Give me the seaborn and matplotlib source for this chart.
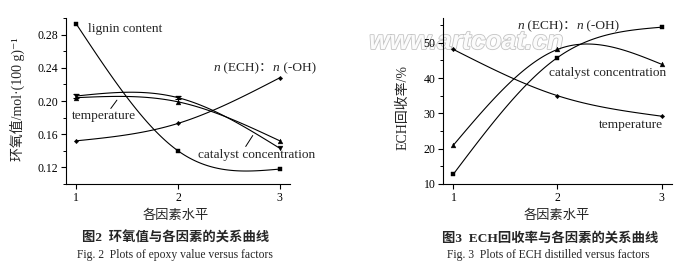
import numpy as np
import pandas as pd
import matplotlib
matplotlib.use("Agg")
import matplotlib.pyplot as plt
import seaborn as sns
from matplotlib import patheffects as pe
from matplotlib.ticker import MultipleLocator

# ---------------- data ----------------
levels = [1, 2, 3]
level_labels = ["1", "2", "3"]

# Fig. 2 : epoxy value (mol/100 g) vs factor level
epoxy_lignin = [0.293, 0.140, 0.118]
epoxy_ratio = [0.152, 0.173, 0.228]
epoxy_catalyst = [0.206, 0.204, 0.143]
epoxy_temperature = [0.204, 0.199, 0.152]
epoxy_yticks = [0.12, 0.16, 0.20, 0.24, 0.28]

# Fig. 3 : ECH recovery (%) vs factor level
ech_ratio = [12.8, 45.8, 54.4]
ech_catalyst = [21.0, 48.1, 43.9]
ech_temperature = [48.1, 35.0, 29.2]
ech_yticks = [10, 20, 30, 40, 50]

# ---------------- style ----------------
sns.set_theme(style="ticks")
plt.rcParams['font.family'] = ['Liberation Serif', 'Noto Sans CJK SC', 'DejaVu Serif']
plt.rcParams['axes.linewidth'] = 0.8
plt.rcParams['axes.edgecolor'] = 'black'
plt.rcParams['xtick.color'] = 'black'
plt.rcParams['ytick.color'] = 'black'

W, H = 681, 264
fig = plt.figure(figsize=(W / 100, H / 100), dpi=100)
fig.patch.set_facecolor('white')

ax1 = fig.add_axes([66 / W, 80 / H, 224 / W, 166 / H])
ax2 = fig.add_axes([443 / W, 80 / H, 229 / W, 166 / H])


def natural_spline(xs, ys, n=60):
    """Natural cubic spline through the given points (uniform spacing)."""
    xs = np.asarray(xs, float)
    ys = np.asarray(ys, float)
    k = len(xs)
    h = xs[1] - xs[0]
    A = np.zeros((k, k))
    r = np.zeros(k)
    A[0, 0] = A[-1, -1] = 1
    for i in range(1, k - 1):
        A[i, i - 1], A[i, i], A[i, i + 1] = h, 4 * h, h
        r[i] = 6 * (ys[i + 1] - 2 * ys[i] + ys[i - 1]) / h
    M = np.linalg.solve(A, r)
    out_x, out_y = [], []
    for i in range(k - 1):
        t = np.linspace(0, 1, n)
        u = 1 - t
        seg = (ys[i] * u + ys[i + 1] * t
               + (M[i] * h * h / 6) * (u ** 3 - u)
               + (M[i + 1] * h * h / 6) * (t ** 3 - t))
        out_x.append(xs[i] + t * h)
        out_y.append(seg)
    return np.concatenate(out_x), np.concatenate(out_y)


def draw_series(ax, ys, marker, size):
    xx, yy = natural_spline(levels, ys)
    sns.lineplot(x=xx, y=yy, ax=ax, color='black', linewidth=0.8,
                 sort=False, estimator=None)
    sns.scatterplot(x=levels, y=ys, ax=ax, marker=marker, s=size,
                    color='black', edgecolor='black', linewidth=0.3, zorder=4)


def ratio_label(ax, x, y, fs):
    t = ax.text(x, y, 'n', style='italic', fontsize=fs, ha='left', va='center')
    t2 = ax.annotate(' (ECH)：', xy=(1, 0), xycoords=t, va='bottom', fontsize=fs)
    t3 = ax.annotate('n', xy=(1, 0), xycoords=t2, va='bottom', fontsize=fs,
                     style='italic')
    ax.annotate(' (-OH)', xy=(1, 0), xycoords=t3, va='bottom', fontsize=fs)


def style_axes(ax, ylim, yticks, yminor):
    ax.set_xlim(0.9, 3.1)
    ax.set_ylim(*ylim)
    ax.set_xticks(levels)
    ax.set_xticklabels(level_labels)
    ax.set_yticks(yticks)
    ax.yaxis.set_minor_locator(MultipleLocator(yminor))
    sns.despine(ax=ax)
    ax.tick_params(axis='both', which='major', direction='out', length=3.5,
                   width=0.8, labelsize=8.5, pad=2)
    ax.tick_params(axis='y', which='minor', direction='out', length=2, width=0.7)
    ax.set_xlabel('')
    ax.set_facecolor('none')


LFS = 9.6

# ---------------- Fig. 2 ----------------
draw_series(ax1, epoxy_lignin, 's', 9)
draw_series(ax1, epoxy_ratio, 'D', 5)
draw_series(ax1, epoxy_catalyst, 'v', 12)
draw_series(ax1, epoxy_temperature, '^', 12)
ax1.errorbar(levels[:2], epoxy_catalyst[:2], yerr=0.002, fmt='none',
             ecolor='black', elinewidth=0.8, capsize=2, capthick=0.8)
style_axes(ax1, (0.10, 0.30), epoxy_yticks, 0.02)
ax1.set_yticklabels([f"{v:.2f}" for v in epoxy_yticks])
ax1.set_ylabel('环氧值/mol·(100 g)⁻¹', fontsize=10)
ax1.yaxis.set_label_coords(-0.185, 0.51)

ax1.text(1.12, 0.287, 'lignin content', fontsize=LFS, ha='left', va='center')
ratio_label(ax1, 2.35, 0.240, LFS)
ax1.text(0.96, 0.182, 'temperature', fontsize=LFS, ha='left', va='center')
ax1.text(2.20, 0.1344, 'catalyst concentration', fontsize=LFS, ha='left', va='center')
ax1.plot([1.34, 1.40], [0.191, 0.201], color='black', lw=0.7)
ax1.plot([2.665, 2.734], [0.1452, 0.1584], color='black', lw=0.7)

# ---------------- Fig. 3 ----------------
draw_series(ax2, ech_ratio, 's', 9)
draw_series(ax2, ech_catalyst, '^', 12)
draw_series(ax2, ech_temperature, 'D', 5)
style_axes(ax2, (10, 57), ech_yticks, 5)
ax2.set_ylabel('ECH回收率/%', fontsize=10)
ax2.yaxis.set_label_coords(-0.145, 0.46)

ratio_label(ax2, 1.615, 54.7, LFS)
ax2.text(1.923, 41.5, 'catalyst concentration', fontsize=LFS, ha='left', va='center')
ax2.text(2.394, 26.6, 'temperature', fontsize=LFS, ha='left', va='center')

# ---------------- captions ----------------
def ftext(x, y, s, **kw):
    fig.text(x / W, 1 - y / H, s, ha='center', va='center', **kw)

ftext(176, 216, '各因素水平', fontsize=9.5)
ftext(557, 216, '各因素水平', fontsize=9.5)
ftext(176, 238, '图2  环氧值与各因素的关系曲线', fontsize=9.6, weight='bold')
ftext(550, 238, '图3  ECH回收率与各因素的关系曲线', fontsize=9.6, weight='bold')
ftext(175, 255, 'Fig. 2  Plots of epoxy value versus factors', fontsize=8.4)
ftext(548, 255, 'Fig. 3  Plots of ECH distilled versus factors', fontsize=8.4)

# watermark (drawn behind the transparent axes)
fig.text(466 / W, 1 - 42 / H, 'www.artcoat.cn', fontsize=19,
         family=['Liberation Sans'], weight='bold', style='italic',
         color='#fbfbfb', ha='center', va='center', zorder=-1,
         path_effects=[pe.withStroke(linewidth=1.2, foreground='#c4c4c4')])

fig.savefig('out.png', dpi=100, facecolor='white')
